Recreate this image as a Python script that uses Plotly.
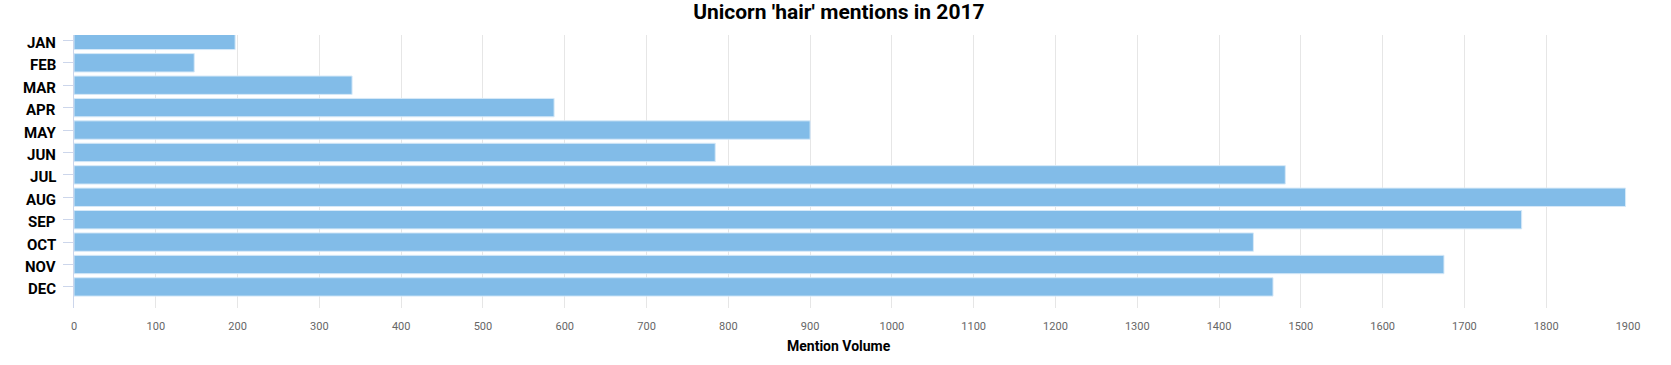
import plotly.graph_objects as go

months = ["JAN", "FEB", "MAR", "APR", "MAY", "JUN", "JUL", "AUG", "SEP", "OCT", "NOV", "DEC"]
mentions = [197, 147, 340, 587, 900, 784, 1481, 1897, 1770, 1442, 1675, 1466]
x_ticks = list(range(0, 2000, 100))

fig = go.Figure(
    go.Bar(
        x=mentions,
        y=months,
        orientation="h",
        marker=dict(color="#82bce8", line=dict(color="#d6e9f8", width=1)),
        hoverinfo="x+y",
    )
)

# y category labels (slightly below the tick marks, as in the reference)
for m in months:
    fig.add_annotation(
        x=0, xref="paper", y=m, yref="y",
        text="<b>" + m + "</b>",
        showarrow=False,
        xanchor="right", yanchor="middle",
        xshift=-16, yshift=-2.5,
        font=dict(family="Roboto", size=15, color="#000000"),
    )

fig.add_annotation(
    x=0.4923, xref="paper", y=0, yref="paper",
    text="<b>Mention Volume</b>",
    showarrow=False,
    xanchor="center", yanchor="middle",
    yshift=-38,
    font=dict(family="Roboto", size=14, color="#000000"),
)

fig.update_layout(
    width=1671,
    height=365,
    margin=dict(l=74, r=43, t=35, b=57),
    paper_bgcolor="white",
    plot_bgcolor="white",
    bargap=0.18,
    showlegend=False,
    font=dict(family="Roboto", color="#000000"),
    title=dict(
        text="<b>Unicorn 'hair' mentions in 2017</b>",
        x=0.502,
        xanchor="center",
        y=0.967,
        yanchor="middle",
        font=dict(family="Roboto", size=21, color="#000000"),
    ),
    xaxis=dict(
        range=[0, 1900],
        tickvals=x_ticks,
        ticktext=[str(v) for v in x_ticks],
        showgrid=True,
        gridcolor="#e6e6e6",
        gridwidth=1,
        zeroline=False,
        showline=False,
        ticks="outside",
        ticklen=8,
        tickcolor="rgba(0,0,0,0)",
        tickfont=dict(family="Roboto", size=11, color="#666666"),
    ),
    yaxis=dict(
        categoryorder="array",
        categoryarray=months,
        range=[11.94, -0.24],
        showgrid=False,
        zeroline=False,
        showline=True,
        linecolor="#ccd6eb",
        linewidth=1,
        ticks="outside",
        ticklen=10,
        tickcolor="#ccd6eb",
        showticklabels=False,
    ),
)

fig.write_html("out.html")
